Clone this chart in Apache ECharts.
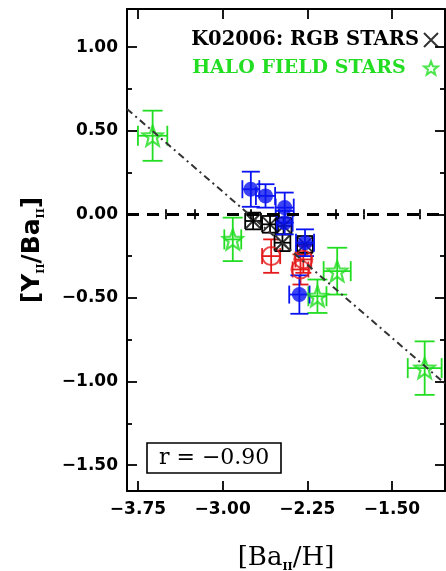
<!DOCTYPE html>
<html>
<head>
<meta charset="utf-8">
<script src="https://cdn.jsdelivr.net/npm/echarts@6/dist/echarts.min.js"></script>
<style>
  html, body { margin: 0; padding: 0; background: #fff; }
  #chart { width: 446px; height: 571px; }
</style>
</head>
<body>
<div id="chart"></div>
<script>
// Axis ticks
const xMajorTicks = [-3.75, -3.0, -2.25, -1.5];
const xMinorTicks = [-3.5, -3.25, -2.75, -2.5, -2.0, -1.75, -1.25];
const yMajorTicks = [-1.5, -1.0, -0.5, 0.0, 0.5, 1.0];
const yMinorTicks = [-1.25, -0.75, -0.25, 0.25, 0.75];
const xRange = [-3.847, -1.03];
const yRange = [-1.655, 1.228];

// K02006: RGB stars
const rgbBa = [-2.73, -2.58, -2.46, -2.47, -2.27];
const rgbY = [-0.04, -0.06, -0.07, -0.17, -0.18];
const rgbBaErr = [0.07, 0.07, 0.07, 0.07, 0.07];
const rgbYErr = [0.05, 0.05, 0.05, 0.05, 0.05];

// Halo field stars
const haloBa = [-3.62, -2.91, -2.16, -1.985, -1.21];
const haloY = [0.47, -0.15, -0.49, -0.34, -0.92];
const haloBaErr = [0.13, 0.075, 0.08, 0.12, 0.15];
const haloYErr = [0.15, 0.13, 0.10, 0.14, 0.16];

// Filled-circle sample
const dotBa = [-2.75, -2.62, -2.45, -2.45, -2.27, -2.32];
const dotY = [0.15, 0.11, 0.04, -0.05, -0.17, -0.48];
const dotBaErr = [0.075, 0.085, 0.08, 0.07, 0.08, 0.09];
const dotYErr = [0.105, 0.07, 0.09, 0.07, 0.08, 0.115];

// Open-circle sample
const ringBa = [-2.57, -2.31, -2.285];
const ringY = [-0.25, -0.33, -0.27];
const ringBaErr = [0.08, 0.07, 0.07];
const ringYErr = [0.10, 0.09, 0.08];

// Linear fit through the whole sample
const fitSlope = -0.583;
const fitIntercept = -1.613;
const fitR = -0.90;

const GREEN = '#22dd22';
const BLUE = '#0a14f0';
const RED = '#e51b1b';
const BLACK = '#000000';

const STAR = 'path://M50,2 L62.3,35 L97.6,36.5 L70,58.5 L79.4,92.5 L50,73 L20.6,92.5 L30,58.5 L2.4,36.5 L37.7,35 Z';
const CROSS = 'path://M0,0 L10,10 M0,10 L10,0';

function fmt(v) {
  return (v < 0 ? '\u2212' : '') + Math.abs(v).toFixed(2);
}

function zip(xs, ys, xe, ye) {
  return xs.map((x, i) => [x, ys[i], xe[i], ye[i]]);
}

// Error bars with end caps in both directions
function errorBars(name, xs, ys, xe, ye, color, cap) {
  return {
    type: 'custom',
    name: name,
    silent: true,
    clip: true,
    data: zip(xs, ys, xe, ye),
    encode: { x: 0, y: 1 },
    renderItem: function (params, api) {
      const x = api.value(0), y = api.value(1);
      const dx = api.value(2), dy = api.value(3);
      const l = api.coord([x - dx, y]);
      const r = api.coord([x + dx, y]);
      const t = api.coord([x, y + dy]);
      const b = api.coord([x, y - dy]);
      const style = { stroke: color, lineWidth: 1.8, fill: null };
      const seg = (x1, y1, x2, y2) => ({ type: 'line', shape: { x1, y1, x2, y2 }, style });
      return {
        type: 'group',
        children: [
          seg(l[0], l[1], r[0], r[1]),
          seg(t[0], t[1], b[0], b[1]),
          seg(l[0], l[1] - cap, l[0], l[1] + cap),
          seg(r[0], r[1] - cap, r[0], r[1] + cap),
          seg(t[0] - cap, t[1], t[0] + cap, t[1]),
          seg(b[0] - cap, b[1], b[0] + cap, b[1])
        ]
      };
    }
  };
}

function points(name, xs, ys, symbol, size, itemStyle) {
  return {
    type: 'scatter',
    name: name,
    symbol: symbol,
    symbolSize: size,
    data: xs.map((x, i) => [x, ys[i]]),
    itemStyle: itemStyle,
    emphasis: { disabled: true }
  };
}

const tickFont = { fontFamily: 'DejaVu Sans', fontWeight: 'bold', fontSize: 17, color: '#000' };
const axisLine = { show: true, onZero: false, lineStyle: { color: '#000', width: 2 } };

function xAxisDef(position, values, len, withLine, withLabels) {
  const a = {
    type: 'value', position: position, min: xRange[0], max: xRange[1],
    axisLine: withLine ? axisLine : { show: false },
    axisTick: { show: true, inside: true, length: len, customValues: values, lineStyle: { color: '#000', width: 1.8 } },
    axisLabel: { show: false },
    splitLine: { show: false }
  };
  if (withLabels) {
    a.axisLabel = Object.assign({ show: true, margin: 10, customValues: values, formatter: fmt }, tickFont);
  }
  return a;
}

function yAxisDef(position, values, len, withLine, withLabels) {
  const a = {
    type: 'value', position: position, min: yRange[0], max: yRange[1],
    axisLine: withLine ? axisLine : { show: false },
    axisTick: { show: true, inside: true, length: len, customValues: values, lineStyle: { color: '#000', width: 1.8 } },
    axisLabel: { show: false },
    splitLine: { show: false }
  };
  if (withLabels) {
    a.axisLabel = Object.assign({ show: true, margin: 9, customValues: values, formatter: fmt }, tickFont);
  }
  return a;
}

const xMain = xAxisDef('bottom', xMajorTicks, 10, true, true);
xMain.name = '{m|[Ba}{s|II}{m|/H]}';
xMain.nameLocation = 'middle';
xMain.nameGap = 52;
xMain.nameTextStyle = {
  rich: {
    m: { fontFamily: 'DejaVu Serif', fontSize: 26, color: '#000', lineHeight: 30 },
    s: { fontFamily: 'DejaVu Serif', fontWeight: 'bold', fontSize: 11, color: '#000', lineHeight: 8, verticalAlign: 'bottom' }
  }
};

const yMain = yAxisDef('left', yMajorTicks, 10, true, true);
yMain.name = '{m|[Y}{s|II}{m|/Ba}{s|II}{m|]}';
yMain.nameLocation = 'middle';
yMain.nameRotate = 90;
yMain.nameGap = 80;
yMain.nameTextStyle = {
  rich: {
    m: { fontFamily: 'DejaVu Sans', fontWeight: 'bold', fontSize: 25, color: '#000', lineHeight: 30 },
    s: { fontFamily: 'DejaVu Serif', fontWeight: 'bold', fontSize: 11, color: '#000', lineHeight: 8, verticalAlign: 'bottom' }
  }
};

const rgbName = 'K02006: RGB STARS';
const haloName = 'HALO FIELD STARS';

const option = {
  animation: false,
  backgroundColor: '#fff',
  grid: { left: 127, right: 1, top: 9, bottom: 80, containLabel: false, outerBoundsMode: 'none' },
  xAxis: [
    xMain,
    xAxisDef('bottom', xMinorTicks, 5, false, false),
    xAxisDef('top', xMajorTicks, 10, true, false),
    xAxisDef('top', xMinorTicks, 5, false, false)
  ],
  yAxis: [
    yMain,
    yAxisDef('left', yMinorTicks, 5, false, false),
    yAxisDef('right', yMajorTicks, 10, true, false),
    yAxisDef('right', yMinorTicks, 5, false, false)
  ],
  legend: {
    orient: 'vertical',
    right: 2,
    top: 24,
    align: 'right',
    itemWidth: 14,
    itemHeight: 14,
    itemGap: 6,
    selectedMode: false,
    formatter: n => (n === haloName ? n + '  ' : n),
    textStyle: { fontFamily: 'DejaVu Serif', fontWeight: 'bold', fontSize: 19.5, lineHeight: 22 },
    data: [
      { name: rgbName, textStyle: { color: BLACK } },
      { name: haloName, textStyle: { color: GREEN, fontSize: 19 } }
    ]
  },
  title: {
    text: 'r = ' + fmt(fitR),
    left: 147,
    top: 443,
    padding: [3, 12, 3, 12],
    borderColor: '#000',
    borderWidth: 1.6,
    backgroundColor: '#fff',
    textStyle: { fontFamily: 'DejaVu Serif', fontWeight: 'normal', fontSize: 22, color: '#000', lineHeight: 24 }
  },
  series: [
    {
      type: 'line',
      name: 'fit',
      symbol: 'none',
      silent: true,
      data: xRange.map(x => [x, fitSlope * x + fitIntercept]),
      lineStyle: { color: '#333', width: 2, type: [7, 4, 2, 4] },
      markLine: {
        silent: true,
        symbol: 'none',
        label: { show: false },
        lineStyle: { color: '#000', width: 3, type: [12, 8] },
        data: [{ yAxis: 0 }]
      }
    },
    errorBars('halo-err', haloBa, haloY, haloBaErr, haloYErr, GREEN, 10),
    points(haloName, haloBa, haloY, STAR, 20, { color: 'rgba(255,255,255,0)', borderColor: GREEN, borderWidth: 2.2 }),
    errorBars('ring-err', ringBa, ringY, ringBaErr, ringYErr, RED, 8),
    points('ring', ringBa, ringY, 'circle', 18, { color: 'rgba(255,255,255,0)', borderColor: RED, borderWidth: 2 }),
    errorBars('rgb-err', rgbBa, rgbY, rgbBaErr, rgbYErr, BLACK, 8),
    points(rgbName, rgbBa, rgbY, CROSS, 14, { color: 'rgba(0,0,0,0)', borderColor: BLACK, borderWidth: 2 }),
    errorBars('dot-err', dotBa, dotY, dotBaErr, dotYErr, BLUE, 9),
    points('dot', dotBa, dotY, 'circle', 15, { color: BLUE })
  ]
};

const chart = echarts.init(document.getElementById('chart'), null, { renderer: 'canvas' });
chart.setOption(option);
</script>
</body>
</html>
